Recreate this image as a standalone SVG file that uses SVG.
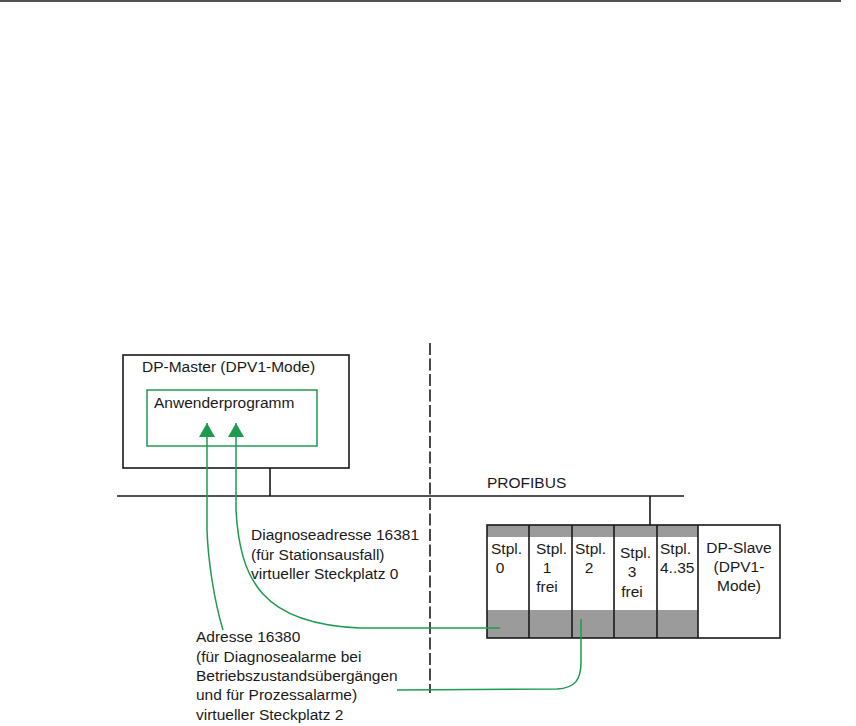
<svg xmlns="http://www.w3.org/2000/svg" width="856" height="726" viewBox="0 0 856 726">
<defs>
<style>
text{font-family:"Liberation Sans",Arial,sans-serif;font-size:15.5px;fill:#1a1a1a}
.blk{fill:none;stroke:#1a1a1a;stroke-width:1.6}
.grn{fill:none;stroke:#1e9a50;stroke-width:1.5}
.band{fill:#9b9b9b;stroke:none}
.mid{text-anchor:middle}
</style>
<marker id="ah" viewBox="0 0 14 16" refX="14" refY="8" markerWidth="14" markerHeight="16" markerUnits="userSpaceOnUse" orient="auto">
<path d="M0,0 L14,8 L0,16 Z" fill="#1e9a50"/>
</marker>
</defs>
<rect width="856" height="726" fill="#ffffff"/>
<line x1="0" y1="1" x2="841" y2="1" stroke="#1a1a1a" stroke-width="1.6"/>
<line id="divider" x1="430" y1="343" x2="430" y2="693" stroke="#1a1a1a" stroke-width="1.6" stroke-dasharray="12,3.5"/>

<g id="master">
<rect class="blk" x="123" y="355" width="226" height="113" fill="#fff"/>
<text x="142" y="372">DP-Master (DPV1-Mode)</text>
</g>
<g id="anwenderprogramm">
<rect class="grn" x="147" y="390" width="170" height="56"/>
<text x="154" y="408">Anwenderprogramm</text>
</g>

<g id="bus">
<line class="blk" x1="117" y1="496" x2="684" y2="496"/>
<line class="blk" x1="270" y1="468" x2="270" y2="496"/>
<line class="blk" x1="650" y1="496" x2="650" y2="525"/>
<text x="487" y="488">PROFIBUS</text>
</g>

<g id="slave">
<rect x="487" y="525" width="211" height="113" fill="#fff"/>
<rect class="band" x="487" y="525" width="211" height="12"/>
<rect class="band" x="487" y="610" width="211" height="28"/>
<rect class="blk" x="487" y="525" width="293" height="113"/>
<line class="blk" x1="529" y1="525" x2="529" y2="638"/>
<line class="blk" x1="572" y1="525" x2="572" y2="638"/>
<line class="blk" x1="614" y1="525" x2="614" y2="638"/>
<line class="blk" x1="657" y1="525" x2="657" y2="638"/>
<line class="blk" x1="698" y1="525" x2="698" y2="638"/>
<text x="491" y="554">Stpl.</text>
<text x="500" y="573" class="mid">0</text>
<text x="536" y="554">Stpl.</text>
<text x="547" y="573" class="mid">1</text>
<text x="547" y="592" class="mid">frei</text>
<text x="575" y="554">Stpl.</text>
<text x="589" y="573" class="mid">2</text>
<text x="620" y="558">Stpl.</text>
<text x="632" y="577" class="mid">3</text>
<text x="632" y="597" class="mid">frei</text>
<text x="660" y="554">Stpl.</text>
<text x="660" y="573">4..35</text>
<text x="739" y="553" class="mid">DP-Slave</text>
<text x="739" y="572" class="mid">(DPV1-</text>
<text x="739" y="591" class="mid">Mode)</text>
</g>

<g id="connectors">
<path class="grn" marker-end="url(#ah)" d="M223,630 C214,600 208,560 207,530 L207,423"/>
<path class="grn" marker-end="url(#ah)" d="M500,628 L360,628 C262,624 240,580 236,510 L236,423"/>
<path class="grn" d="M397,690 L557,689 C575,688 581,680 581,662 L581,619"/>
</g>

<g id="labels">
<text x="251" y="540">Diagnoseadresse 16381</text>
<text x="251" y="560">(für Stationsausfall)</text>
<text x="251" y="579">virtueller Steckplatz 0</text>
<text x="196" y="642">Adresse 16380</text>
<text x="196" y="662">(für Diagnosealarme bei</text>
<text x="196" y="681">Betriebszustandsübergängen</text>
<text x="196" y="700">und für Prozessalarme)</text>
<text x="196" y="720">virtueller Steckplatz 2</text>
</g>
</svg>
